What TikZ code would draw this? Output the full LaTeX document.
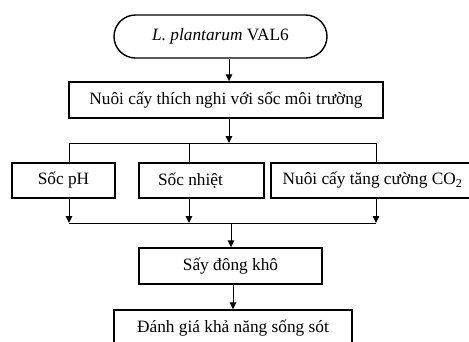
\documentclass[tikz,border=0pt]{standalone}
\usepackage{fontspec}
\setmainfont{Liberation Serif}
\usepackage{tikz}
\usetikzlibrary{arrows.meta,positioning,calc}

\begin{document}
\begin{tikzpicture}[x=1pt, y=-1pt,
  term/.style={draw, line width=1.4pt, rounded corners=21.5pt, minimum width=213pt, minimum height=43pt, inner sep=0pt, font=\fontsize{17.3}{20}\selectfont},
  box/.style={draw, line width=1.4pt, minimum height=36pt, inner sep=0pt, font=\fontsize{17.3}{20}\selectfont},
  e/.style={-{Triangle[length=7pt, width=6.5pt]}, line width=1pt},
  ln/.style={line width=1pt}
]
  \useasboundingbox (0,0) rectangle (469,341);
  \clip (0,0) rectangle (469,341);
  \node[term] (start) at (220.5,36.5) {\textit{L. plantarum} VAL6};
  \node[box, minimum width=314pt] (adapt) at (226,100) {Nuôi cấy thích nghi với sốc môi trường};
  \node[box, minimum width=103pt, minimum height=35pt] (ph) at (63.5,180.5) {Sốc pH};
  \node[box, minimum width=125pt, minimum height=35pt] (heat) at (201.5,180.5) {Sốc nhiệt\hspace*{22pt}};
  \node[box, minimum width=203pt, minimum height=35pt] (co2) at (372.5,180.5) {Nuôi cấy tăng cường CO\textsubscript{2}};
  \node[box, minimum width=183pt] (dry) at (230.5,266) {Sấy đông khô};
  \node[box, minimum width=238pt] (eval) at (233,328) {Đánh giá khả năng sống sót};

  \coordinate (split) at (229,143);
  \coordinate (bA) at (69,143);
  \coordinate (bB) at (189,143);
  \coordinate (bC) at (376,143);
  \coordinate (mA) at (69,223);
  \coordinate (mB) at (189,223);
  \coordinate (mC) at (376,223);
  \coordinate (merge) at (231,223);

  \draw[e] (start.south -| split) -- (adapt.north -| split);
  \draw[e] (adapt.south -| split) -- (split);
  \draw[ln] (bA) -- (bC);
  \draw[ln] (bA) -- (ph.north -| bA);
  \draw[ln] (bB) -- (heat.north -| bB);
  \draw[ln] (bC) -- (co2.north -| bC);
  \draw[e] (ph.south -| mA) -- (mA);
  \draw[e] (heat.south -| mB) -- (mB);
  \draw[e] (co2.south -| mC) -- (mC);
  \draw[ln] (mA) -- (mC);
  \draw[e] (merge) -- (dry.north -| merge);
  \draw[e] (dry.south -| eval.north) -- (eval.north);
\end{tikzpicture}
\end{document}
